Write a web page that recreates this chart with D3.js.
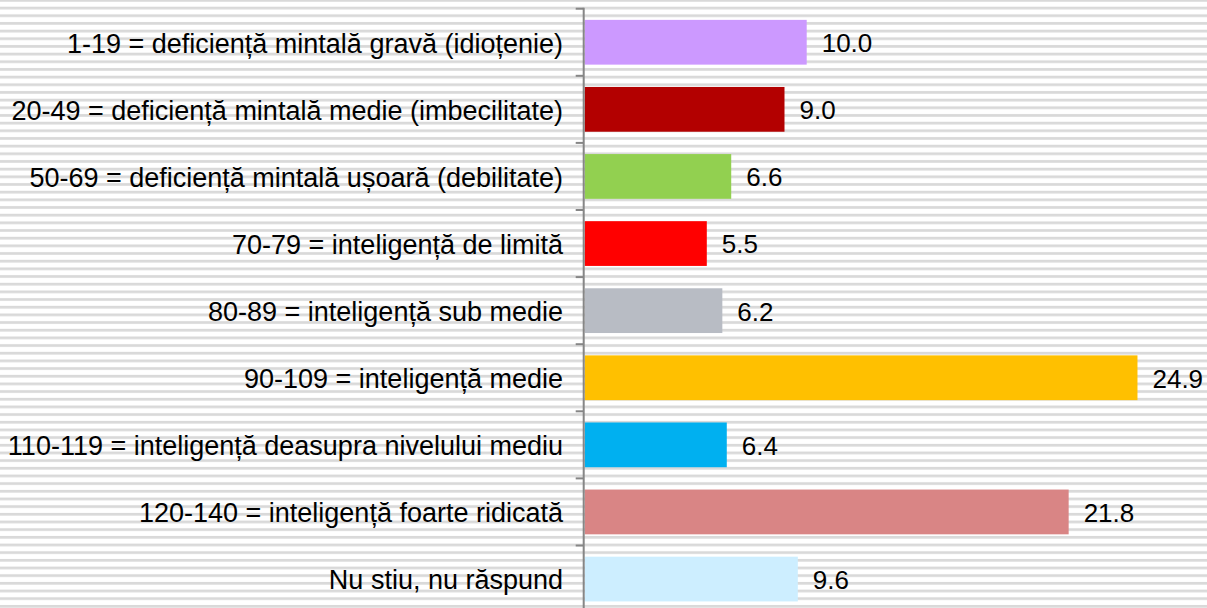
<!DOCTYPE html>
<html>
<head>
<meta charset="utf-8">
<script src="https://cdn.jsdelivr.net/npm/d3@7.9.0/dist/d3.min.js"></script>
<style>
  html, body { margin: 0; padding: 0; background: #fff; }
  svg { display: block; }
</style>
</head>
<body>
<svg id="chart"></svg>
<script>
// categories, values, bar colours
const categories = [
    "1-19 = deficiență mintală gravă (idioțenie)",
    "20-49 = deficiență mintală medie (imbecilitate)",
    "50-69 = deficiență mintală ușoară (debilitate)",
    "70-79 = inteligență de limită",
    "80-89 = inteligență sub medie",
    "90-109 = inteligență medie",
    "110-119 = inteligență deasupra nivelului mediu",
    "120-140 = inteligență foarte ridicată",
    "Nu stiu, nu răspund"
];
const values = [10.0, 9.0, 6.6, 5.5, 6.2, 24.9, 6.4, 21.8, 9.6];
const colors = ["#cc99ff", "#b30000", "#92d050", "#ff0000", "#b8bcc4",
                "#ffc000", "#00b0f0", "#d98585", "#cdeeff"];

const width = 1207;
const height = 608;

const svg = d3.select("#chart")
    .attr("width", width)
    .attr("height", height);

// striped background (narrow horizontal pattern)
const defs = svg.append("defs");
const pat = defs.append("pattern")
    .attr("id", "stripes")
    .attr("patternUnits", "userSpaceOnUse")
    .attr("width", 10)
    .attr("height", 7.67);
pat.append("rect").attr("width", 10).attr("height", 7.67).attr("fill", "#fff");
pat.append("rect").attr("y", 6.7).attr("width", 10).attr("height", 2.7).attr("fill", "#d9d9d9");
pat.append("rect").attr("y", 6.7 - 7.67).attr("width", 10).attr("height", 2.7).attr("fill", "#d9d9d9");

svg.append("rect")
    .attr("width", width)
    .attr("height", height)
    .attr("fill", "url(#stripes)");

const axisX = 583.7;
const topY = 8.7;
const step = 67.1;

const y = d3.scaleBand()
    .domain(categories)
    .range([topY, topY + step * categories.length])
    .paddingInner(0.333)
    .paddingOuter(0.1665);

const x = d3.scaleLinear()
    .domain([0, 1])
    .range([axisX + 1, axisX + 1 + 22.2]);

// bars
svg.selectAll(".bar")
    .data(values)
    .enter()
    .append("rect")
    .attr("class", "bar")
    .attr("x", x(0))
    .attr("y", (d, i) => y(categories[i]))
    .attr("width", d => x(d) - x(0))
    .attr("height", y.bandwidth())
    .attr("fill", (d, i) => colors[i]);

// value labels
svg.selectAll(".val")
    .data(values)
    .enter()
    .append("text")
    .attr("class", "val")
    .attr("x", d => x(d) + 15)
    .attr("y", (d, i) => y(categories[i]) + y.bandwidth() / 2)
    .attr("dy", "0.38em")
    .style("font-family", "'Liberation Sans', Arial, sans-serif")
    .style("font-size", "26px")
    .style("fill", "#000")
    .text(d => d.toFixed(1));

// category axis
const ticks = d3.range(categories.length + 1).map(i => topY + i * step);
svg.selectAll(".tick")
    .data(ticks)
    .enter()
    .append("line")
    .attr("x1", axisX - 8)
    .attr("x2", axisX)
    .attr("y1", d => d)
    .attr("y2", d => d)
    .attr("stroke", "#868686")
    .attr("stroke-width", 2);

svg.append("line")
    .attr("x1", axisX)
    .attr("x2", axisX)
    .attr("y1", topY - 1)
    .attr("y2", height)
    .attr("stroke", "#868686")
    .attr("stroke-width", 2);

svg.selectAll(".cat")
    .data(categories)
    .enter()
    .append("text")
    .attr("class", "cat")
    .attr("x", 563)
    .attr("y", d => y(d) + y.bandwidth() / 2)
    .attr("dy", "0.38em")
    .attr("text-anchor", "end")
    .style("font-family", "'Liberation Sans', Arial, sans-serif")
    .style("font-size", "27px")
    .style("fill", "#000")
    .text(d => d);
</script>
</body>
</html>
